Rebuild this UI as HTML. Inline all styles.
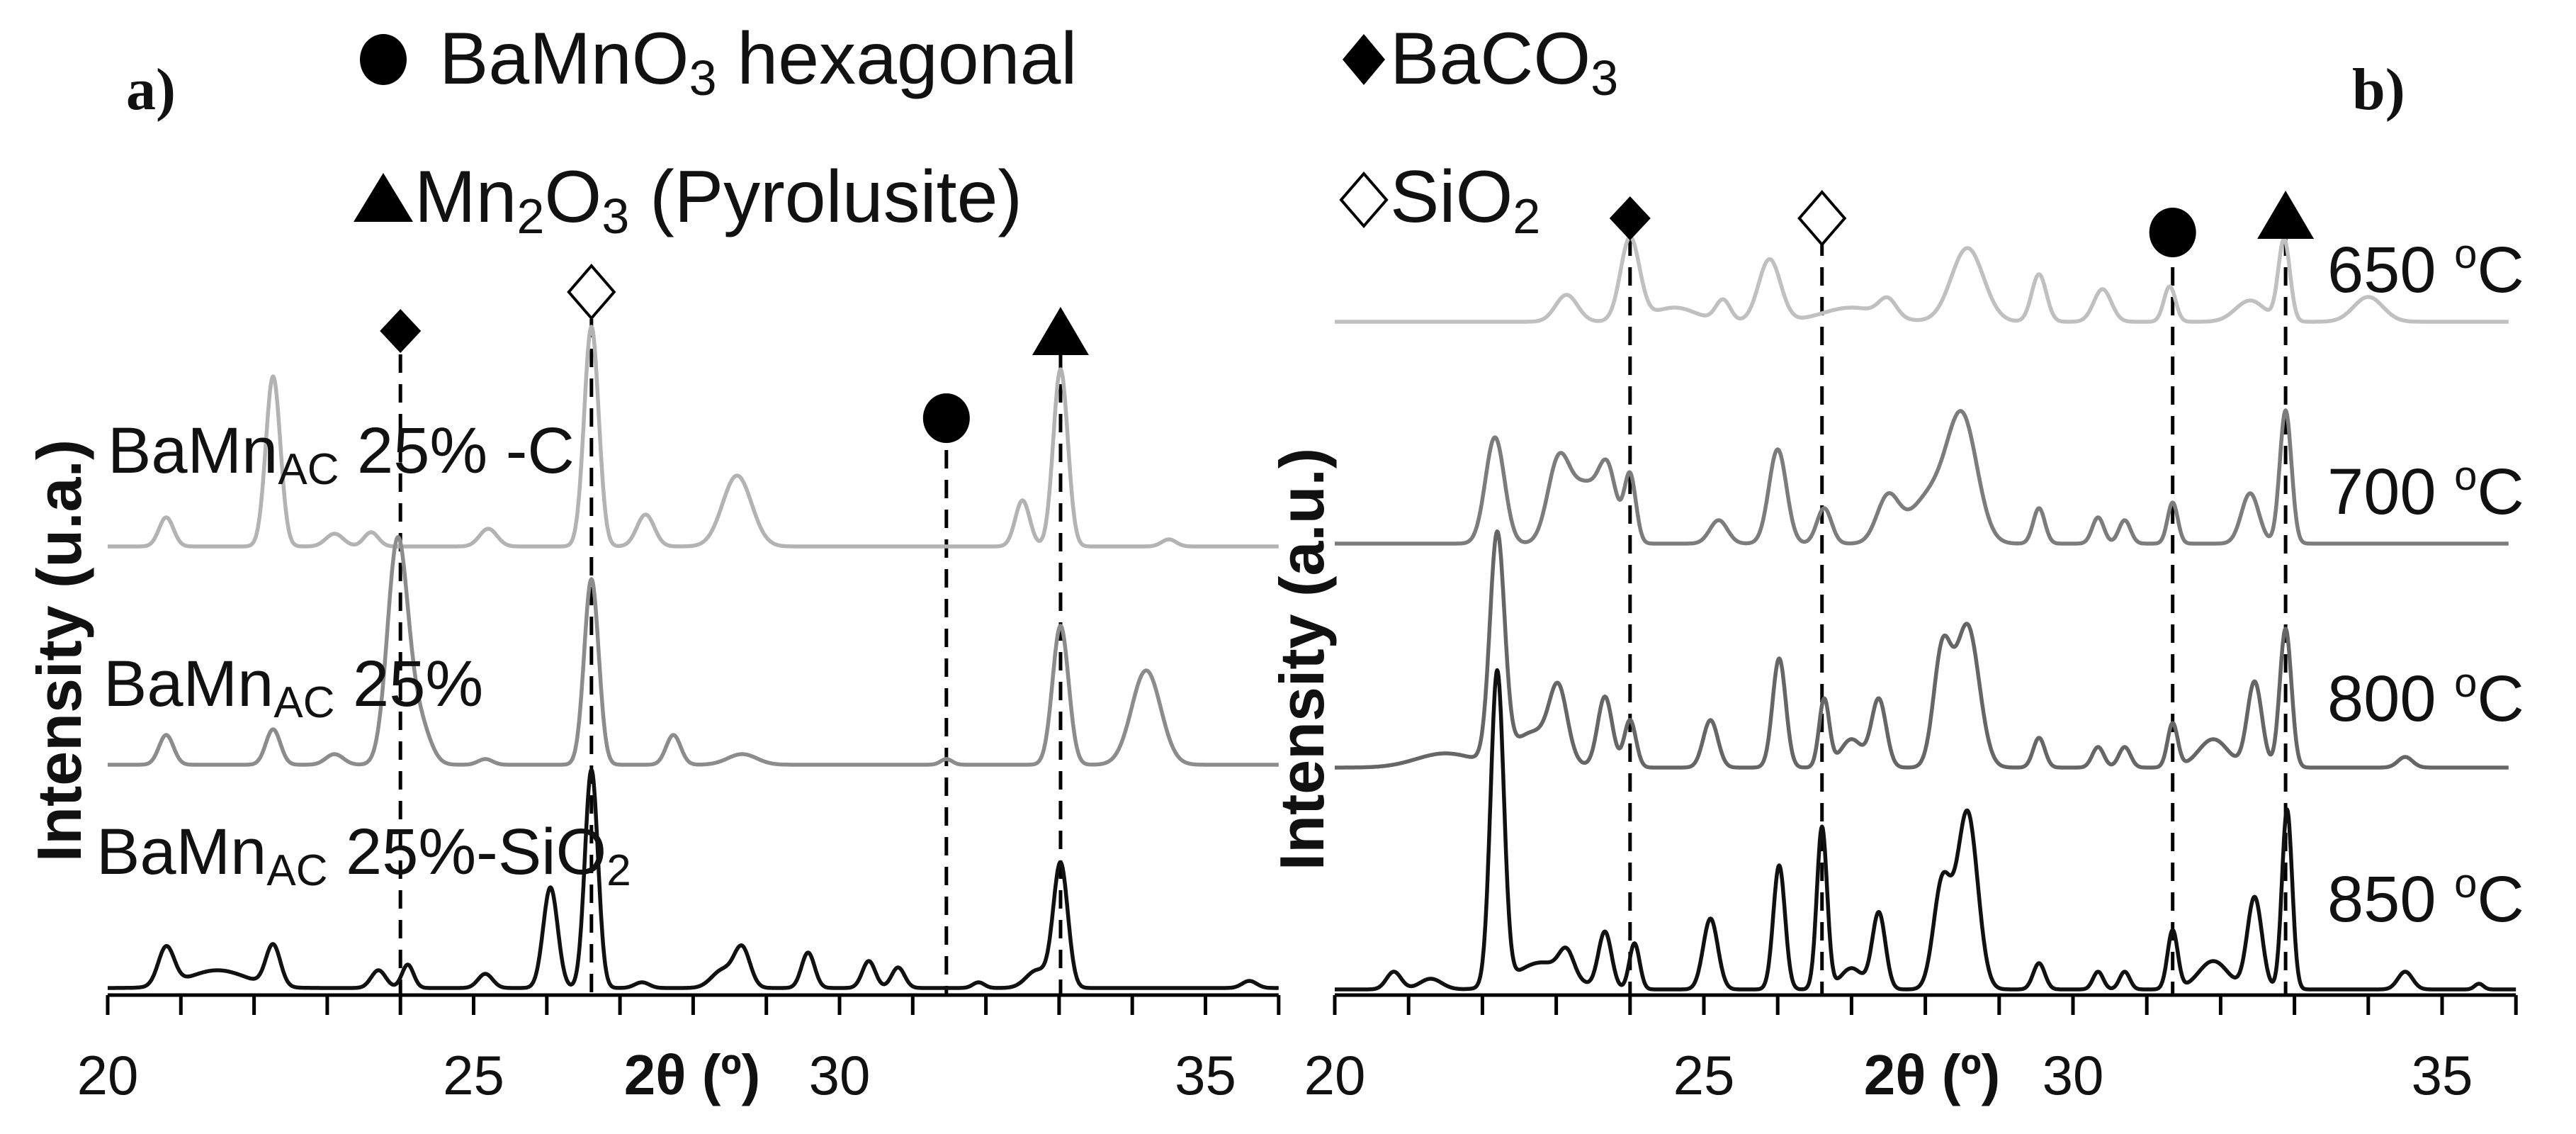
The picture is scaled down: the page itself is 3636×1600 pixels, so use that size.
<!DOCTYPE html>
<html><head><meta charset="utf-8"><style>
html,body{margin:0;padding:0;background:#fff;}
svg{display:block;}
text{font-family:"Liberation Sans",Arial,sans-serif;fill:#111;}
</style></head><body>
<svg id="chart" width="3636" height="1600" viewBox="0 0 3636 1600" xmlns="http://www.w3.org/2000/svg">
<g>
  <ellipse cx="541" cy="84" rx="33" ry="36" fill="#000"/>
  <text x="620" y="118" font-size="104">BaMnO<tspan font-size="70" dy="16">3</tspan><tspan dy="-16"> hexagonal</tspan></text>
  <polygon points="1925,48 1955,84 1925,120 1895,84" fill="#000"/>
  <text x="1962" y="118" font-size="104">BaCO<tspan font-size="70" dy="16">3</tspan></text>
  <polygon points="541,244 583,313 499,313" fill="#000"/>
  <text x="585" y="313" font-size="104">Mn<tspan font-size="70" dy="16">2</tspan><tspan dy="-16">O</tspan><tspan font-size="70" dy="16">3</tspan><tspan dy="-16"> (Pyrolusite)</tspan></text>
  <polygon points="1925,245 1957,282 1925,319 1893,282" fill="#fff" stroke="#000" stroke-width="4"/>
  <text x="1962" y="313" font-size="104">SiO<tspan font-size="70" dy="16">2</tspan></text>
</g>
<text x="178" y="154" font-size="84" font-weight="bold" style="font-family:'Liberation Serif',serif">a)</text>
<text x="3320" y="154" font-size="84" font-weight="bold" style="font-family:'Liberation Serif',serif">b)</text>
<g id="gA"></g>
<g id="gB"></g>
</svg>
<script>
// ---- data: peaks [2theta, intensity, width] ----
const xTicks = [20,21,22,23,24,25,26,27,28,29,30,31,32,33,34,35,36];
const xTickLabels = [20,25,30,35];
const peaksC = [[20.8,41,0.1],[22.26,240,0.1],[23.1,18,0.12],[23.6,20,0.1],[25.2,25,0.12],[26.61,310,0.1],[27.35,45,0.12],[28.6,100,0.2],[32.5,65,0.1],[33.02,250,0.1],[34.5,10,0.1]];
const peaksAC = [[20.8,42,0.1],[22.26,50,0.1],[23.1,15,0.12],[23.96,312,0.14],[24.25,60,0.15],[25.16,8,0.1],[26.61,262,0.1],[27.73,42,0.1],[28.67,15,0.2],[31.46,8,0.08],[33.02,196,0.11],[34.19,133,0.2]];
const peaksSi = [[20.8,54,0.11],[21.5,25,0.4],[22.26,58,0.1],[23.7,25,0.1],[24.1,33,0.08],[25.16,20,0.1],[26.05,142,0.1],[26.61,308,0.09],[27.3,8,0.1],[28.4,25,0.15],[28.67,55,0.11],[29.57,50,0.09],[30.4,38,0.09],[30.8,29,0.09],[31.9,8,0.08],[32.7,25,0.15],[33.02,175,0.1],[35.6,10,0.1]];
const peaks650 = [[23.14,38,0.15],[24.0,117,0.13],[24.6,20,0.3],[25.26,30,0.1],[25.89,88,0.15],[27.0,20,0.4],[27.49,25,0.12],[28.57,104,0.22],[29.54,67,0.1],[30.4,46,0.12],[31.31,50,0.08],[32.86,115,0.08],[32.4,30,0.2],[34.0,35,0.2]];
const peaks700 = [[22.17,150,0.13],[23.03,112,0.15],[23.4,80,0.2],[23.7,90,0.12],[24.0,96,0.08],[25.2,33,0.12],[26.0,133,0.12],[26.63,50,0.1],[27.49,62,0.15],[28.1,70,0.3],[28.51,158,0.2],[29.54,50,0.08],[30.34,37,0.08],[30.7,33,0.08],[31.35,58,0.07],[32.4,71,0.12],[32.88,188,0.08]];
const peaks800 = [[21.5,20,0.4],[22.2,317,0.1],[22.7,50,0.3],[23.03,92,0.12],[23.66,100,0.1],[24.0,67,0.08],[25.09,67,0.1],[26.02,154,0.09],[26.63,96,0.07],[27.0,40,0.15],[27.37,96,0.1],[28.23,162,0.12],[28.57,200,0.16],[29.54,42,0.08],[30.34,29,0.08],[30.7,29,0.08],[31.35,62,0.07],[31.9,40,0.2],[32.46,121,0.1],[32.88,196,0.08],[34.5,15,0.1]];
const peaks850 = [[20.8,25,0.1],[21.3,15,0.15],[22.2,442,0.09],[22.8,38,0.35],[23.14,35,0.1],[23.66,80,0.09],[24.06,65,0.07],[25.09,100,0.1],[26.02,175,0.08],[26.6,229,0.07],[27.0,30,0.15],[27.37,108,0.09],[28.23,150,0.12],[28.57,250,0.14],[29.54,37,0.08],[30.34,25,0.07],[30.7,25,0.07],[31.35,83,0.07],[31.9,40,0.2],[32.46,130,0.1],[32.9,254,0.07],[34.5,25,0.1],[35.5,8,0.06]];
const refLinesA = [24.0,26.61,31.46,33.02];
const refLinesB = [24.0,26.6,31.35,32.88];

// ---- layout ----
const WIDTH_FACTOR = 1.4;
const panels = {
  A:{g:'gA', x0:152, k:103.3, axisY:1404},
  B:{g:'gB', x0:1884, k:104.2, axisY:1404}
};
const NS='http://www.w3.org/2000/svg';
function sx(p,d){return p.x0+(d-20)*p.k;}
function mk(tag,attrs,parent){const e=document.createElementNS(NS,tag);for(const a in attrs)e.setAttribute(a,attrs[a]);parent.appendChild(e);return e;}
function intensity(peaks,d){let s=0;for(const pk of peaks){const u=(d-pk[0])/(pk[2]*WIDTH_FACTOR);s+=pk[1]*Math.exp(-u*u);}return s;}
function drawSeries(p,peaks,baseY,color,name,xEnd){
  const g=document.getElementById(p.g);
  let dstr='';
  for(let d=20;d<=xEnd+1e-9;d+=0.01){
    const y=baseY-intensity(peaks,d);
    dstr+=(dstr?'L':'M')+sx(p,d).toFixed(1)+','+y.toFixed(1);
  }
  const path=mk('path',{d:dstr,fill:'none',stroke:color,'stroke-width':5.5,'stroke-linejoin':'round'},g);
  
  
}
function drawAxis(p,prefix){
  const g=document.getElementById(p.g);
  const ax=mk('line',{x1:sx(p,20),x2:sx(p,36),y1:p.axisY,y2:p.axisY,stroke:'#000','stroke-width':5},g);
  
  
  for(const t of xTicks){
    const tk=mk('line',{x1:sx(p,t),x2:sx(p,t),y1:p.axisY,y2:p.axisY+28,stroke:'#000','stroke-width':5},g);
    
    
  }
  for(const t of xTickLabels){
    const tl=mk('text',{x:sx(p,t),y:1544,'font-size':78,'text-anchor':'middle'},g);
    tl.textContent=String(t);
    
    
  }
}
function drawRef(p,d,top,name){
  const g=document.getElementById(p.g);
  const l=mk('line',{x1:sx(p,d),x2:sx(p,d),y1:top,y2:p.axisY,stroke:'#000','stroke-width':5,'stroke-dasharray':'26,16'},g);
  
  
}
function marker(p,d,y,type,name){
  const g=document.getElementById(p.g);const x=sx(p,d);let e;
  if(type==='diamond')e=mk('polygon',{points:`${x},${y-31} ${x+29},${y} ${x},${y+31} ${x-29},${y}`,fill:'#000'},g);
  if(type==='odiamond')e=mk('polygon',{points:`${x},${y-37} ${x+32},${y} ${x},${y+37} ${x-32},${y}`,fill:'#fff',stroke:'#000','stroke-width':4},g);
  if(type==='circle')e=mk('ellipse',{cx:x,cy:y,rx:33,ry:35},g);
  if(type==='triangle')e=mk('polygon',{points:`${x},${y-34} ${x+40},${y+34} ${x-40},${y+34}`,fill:'#000'},g);
  
  
}
const A=panels.A,B=panels.B;
drawAxis(A,'panel-a');
const refTopsA=[500,450,635,500];
refLinesA.forEach((d,i)=>drawRef(A,d,refTopsA[i],'panel-a-reference-line'));
drawSeries(A,peaksC,771,'#b3b3b3','series-bamn-ac-25-c',36);
drawSeries(A,peaksAC,1079,'#8c8c8c','series-bamn-ac-25',36);
drawSeries(A,peaksSi,1394,'#111','series-bamn-ac-25-sio2',36);
marker(A,refLinesA[0],467,'diamond','panel-a-baco3-marker');
marker(A,refLinesA[1],412,'odiamond','panel-a-sio2-marker');
marker(A,refLinesA[2],590,'circle','panel-a-bamno3-marker');
marker(A,refLinesA[3],467,'triangle','panel-a-mn2o3-marker');
drawAxis(B,'panel-b');
refLinesB.forEach(d=>drawRef(B,d,335,'panel-b-reference-line'));
drawSeries(B,peaks650,454,'#c0c0c0','series-650c',35.9);
drawSeries(B,peaks700,767,'#7c7c7c','series-700c',35.9);
drawSeries(B,peaks800,1083,'#666','series-800c',35.9);
drawSeries(B,peaks850,1396,'#111','series-850c',36);
marker(B,refLinesB[0],308,'diamond','panel-b-baco3-marker');
marker(B,refLinesB[1],308,'odiamond','panel-b-sio2-marker');
marker(B,refLinesB[2],328,'circle','panel-b-bamno3-marker');
marker(B,refLinesB[3],303,'triangle','panel-b-mn2o3-marker');
</script>
<svg style="position:absolute;left:0;top:0" width="3636" height="1600">
<g font-family="Liberation Sans, Arial, sans-serif" fill="#111">
<text x="152" y="667" font-size="92">BaMn<tspan font-size="62" dy="16">AC</tspan><tspan dy="-16"> 25% -C</tspan></text>
<text x="146" y="996" font-size="92">BaMn<tspan font-size="62" dy="16">AC</tspan><tspan dy="-16"> 25%</tspan></text>
<text x="136" y="1233" font-size="92">BaMn<tspan font-size="62" dy="16">AC</tspan><tspan dy="-16"> 25%-SiO</tspan><tspan font-size="62" dy="16">2</tspan></text>
<text x="3285" y="412" font-size="92">650 <tspan font-size="58" dy="-34">o</tspan><tspan dy="34">C</tspan></text>
<text x="3285" y="725" font-size="92">700 <tspan font-size="58" dy="-34">o</tspan><tspan dy="34">C</tspan></text>
<text x="3285" y="1017" font-size="92">800 <tspan font-size="58" dy="-34">o</tspan><tspan dy="34">C</tspan></text>
<text x="3285" y="1300" font-size="92">850 <tspan font-size="58" dy="-34">o</tspan><tspan dy="34">C</tspan></text>
<text transform="translate(114,918) rotate(-90)" text-anchor="middle" font-size="88" font-weight="bold">Intensity (u.a.)</text>
<text transform="translate(1868,930) rotate(-90)" text-anchor="middle" font-size="88" font-weight="bold">Intensity (a.u.)</text>
<text x="977" y="1544" text-anchor="middle" font-size="80" font-weight="bold">2θ (º)</text>
<text x="2727" y="1544" text-anchor="middle" font-size="80" font-weight="bold">2θ (º)</text>
</g>
</svg>
</body></html>
